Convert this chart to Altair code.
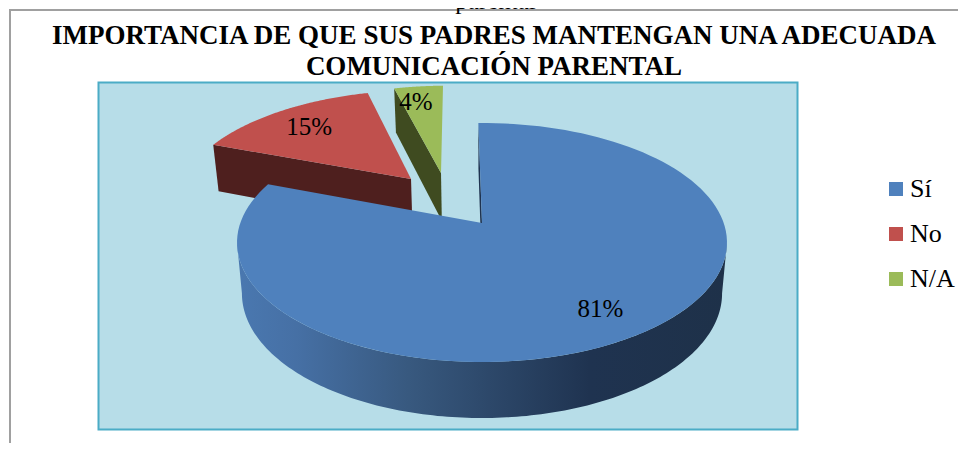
import math
import altair as alt

categories = ["Sí", "No", "N/A"]
values = [81, 15, 4]
percent_labels = ["81%", "15%", "4%"]
slice_colors = ["#4f81bd", "#c0504d", "#9bbb59"]
wall_colors = ["#1f3350", "#4e1f1e", "#3f4b20"]
title_lines = ["IMPORTANCIA DE QUE SUS PADRES MANTENGAN UNA ADECUADA", "COMUNICACIÓN PARENTAL"]
clipped_text = ["parental"]

FONT = "Liberation Serif"
W, H = 950, 435
PX, PY = 8, 8
CX, CY = 482.0, 223.0
A, B, K = 241.7, 116.3, 0.1632
START = -1.0
EXPLODE = {"Sí": (0.0, 0.0), "No": (-0.313, 0.4032), "N/A": (-0.1824, 0.4624)}
LABEL_POLAR = {"Sí": (0.79, 146.4), "No": (0.753, 317.0), "N/A": (0.804, 349.5)}


def project(u, v):
    d = 1 + K * v
    return (CX + A * u / d, CY - B * v / d)


def drop(p):
    x, y = p
    return (CX + (x - CX) * 0.98, y + 44 + (y - 88) * 0.044)


def rim(theta, off):
    t = math.radians(theta)
    return project(math.sin(t) + off[0], math.cos(t) + off[1])


def arc(t0, t1, off, n=120):
    return [rim(t0 + (t1 - t0) * i / n, off) for i in range(n + 1)]


def poly(points, **props):
    ring = [list(p) for p in points]
    if ring[0] != ring[-1]:
        ring.append(ring[0])
    return {"type": "Feature", "properties": props, "geometry": {"type": "Polygon", "coordinates": [ring]}}


def features(feats):
    return alt.InlineData(values={"type": "FeatureCollection", "features": feats},
                          format=alt.DataFormat(property="features", type="json"))


spans = {}
cur = START
for name, val in zip(categories, values):
    spans[name] = (cur, cur + val * 3.6)
    cur += val * 3.6

proj = alt.Projection(type="identity", scale=1, translate=[-PX, -PY])
color_scale = alt.Scale(domain=categories, range=slice_colors)
legend = alt.Legend(title=None, orient="none", legendX=875, legendY=168, symbolType="square", symbolSize=196,
                    symbolStrokeWidth=0, symbolOpacity=1, labelFont=FONT, labelFontSize=26, labelColor="black",
                    labelOffset=1, rowPadding=19, labelLimit=200)


def top_layer(name):
    a, b = spans[name]
    off = EXPLODE[name]
    center = project(off[0], off[1])
    f = poly([center] + arc(a, b, off), slice=name)
    return alt.Chart(features([f])).mark_geoshape(strokeWidth=0).encode(
        color=alt.Color("properties.slice:N", scale=color_scale, legend=legend)).properties(projection=proj)


def wall(points, color):
    return alt.Chart(features([poly(points)])).mark_geoshape(strokeWidth=0, fill=color).properties(projection=proj)


# plot background
bg = alt.Chart(features([poly([(98.5, 82.5), (797.5, 82.5), (797.5, 429.5), (98.5, 429.5)])])).mark_geoshape(
    fill="#b7dde8", stroke="#4bacc6", strokeWidth=2).properties(projection=proj)
frame = alt.Chart(features([{"type": "Feature", "properties": {}, "geometry": {
    "type": "LineString", "coordinates": [[10, 451], [10, 10], [966, 10]]}}])).mark_geoshape(
    filled=False, stroke="#a0a0a0", strokeWidth=2).properties(projection=proj)

# red wall
ra, rb = spans["No"]
roff = EXPLODE["No"]
rc = project(*roff)
r1 = rim(ra, roff)
red_wall = wall([r1, rc, drop(rc), drop(r1)], wall_colors[1])

# green wall
ga, gb = spans["N/A"]
goff = EXPLODE["N/A"]
gc = project(*goff)
g1 = rim(ga, goff)
green_wall = wall([g1, gc, drop(gc), drop(g1)], wall_colors[2])

# blue outer wall
ext = math.degrees(math.acos(-K))
outer_top = arc(ext, 360 - ext, (0, 0), 160)
outer_bot = [drop(p) for p in outer_top][::-1]
blue_grad = alt.Gradient(gradient="linear", x1=0, x2=1, y1=0, y2=0, stops=[
    alt.GradientStop(offset=0, color="#4a78b0"),
    alt.GradientStop(offset=0.12, color="#4670a5"),
    alt.GradientStop(offset=0.35, color="#38597f"),
    alt.GradientStop(offset=0.72, color="#1f3350"),
    alt.GradientStop(offset=1, color="#1e3149"),
])
blue_wall = alt.Chart(features([poly(outer_top + outer_bot)])).mark_geoshape(
    strokeWidth=0, fill=blue_grad).properties(projection=proj)

# blue start-edge wall
ba, bb = spans["Sí"]
b0 = rim(ba, (0, 0))
bc = project(0, 0)
blue_edge = wall([b0, bc, drop(bc), drop(b0)], wall_colors[0])

# percent labels
rows = []
for name, txt in zip(categories, percent_labels):
    r, ang = LABEL_POLAR[name]
    off = EXPLODE[name]
    t = math.radians(ang)
    lon, lat = project(off[0] + r * math.sin(t), off[1] + r * math.cos(t))
    rows.append({"lon": lon, "lat": lat, "txt": txt})
labels = alt.Chart(alt.Data(values=rows)).mark_text(font=FONT, fontSize=25, color="black", baseline="middle").encode(
    longitude="lon:Q", latitude="lat:Q", text="txt:N").properties(projection=proj)
clip = alt.Chart(alt.Data(values=[{"lon": 495.5, "lat": 9, "txt": clipped_text[0]}])).mark_text(
    font=FONT, fontSize=25, color="black", baseline="alphabetic").encode(
    longitude="lon:Q", latitude="lat:Q", text="txt:N").properties(projection=proj)

chart = alt.layer(
    frame, bg, red_wall, top_layer("No"), green_wall, top_layer("N/A"), blue_wall, blue_edge, top_layer("Sí"),
    labels, clip,
).properties(
    width=W, height=H,
    padding=0,
    autosize=alt.AutoSizeParams(type="none"),
    background="white",
    title=alt.TitleParams(text=title_lines, font=FONT, fontSize=27, fontWeight="bold", color="black",
                          anchor="middle", frame="group", dx=11, dy=73, lineHeight=31, offset=0),
).configure_view(stroke=None)

chart.save("out.html", embed_options={"renderer": "svg", "actions": False})
